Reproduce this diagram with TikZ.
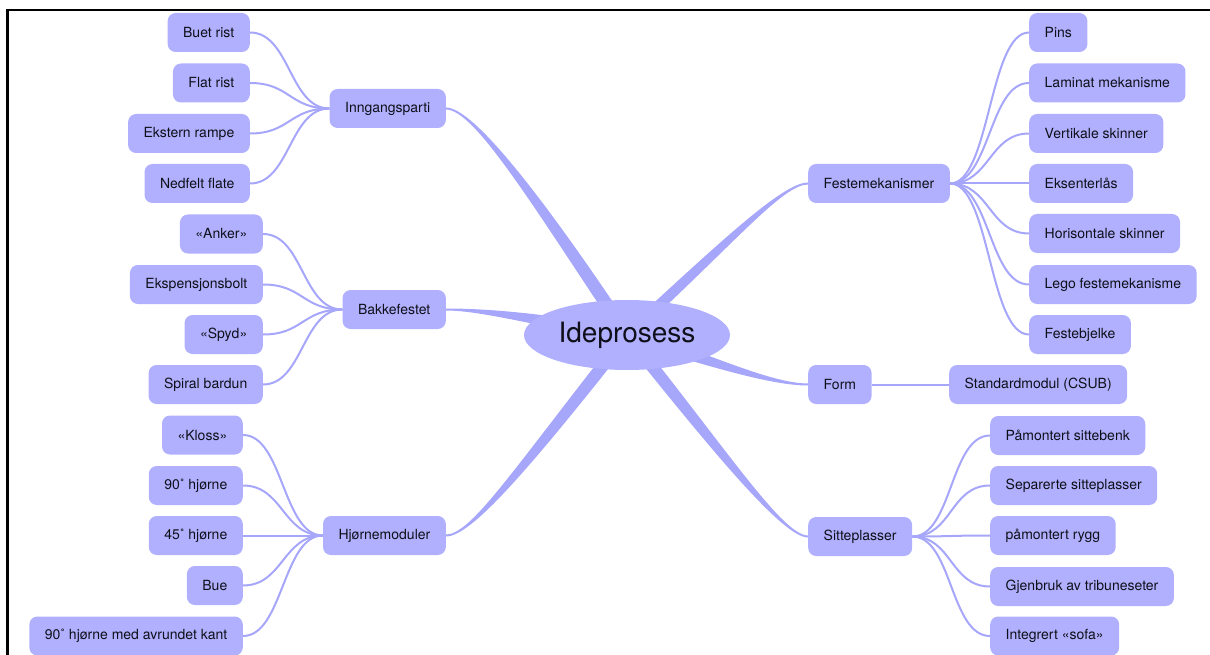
\documentclass[tikz,border=0pt]{standalone}
\usepackage{fontspec}
\setmainfont{TeX Gyre Heros}
\usetikzlibrary{shapes.geometric}
\definecolor{nodefill}{RGB}{176,176,255}
\definecolor{linecol}{RGB}{166,166,250}
\definecolor{txt}{RGB}{15,15,25}
\pgfdeclarelayer{bg}
\pgfsetlayers{bg,main}
\begin{document}
\begin{tikzpicture}[x=1pt,y=-1pt,
  box/.style={draw=none, fill=nodefill, rounded corners=8pt, minimum height=39pt,
    inner xsep=15.5pt, inner ysep=0pt, font=\fontsize{14}{16}\selectfont, text=txt},
  lbox/.style={box, anchor=east},
  rbox/.style={box, anchor=west},
  leafline/.style={draw=linecol, line width=2pt},
  branch/.style={fill=linecol},
  centre/.style={ellipse, fill=nodefill, draw=none, minimum width=206pt, minimum height=70pt,
    inner sep=0pt, font=\fontsize{28}{32}\selectfont, text=txt},
  frame/.style={draw=black, line width=2.4pt}
]
\useasboundingbox (0,0) rectangle (1210,655);
\draw[frame] (7.5,656) -- (7.5,10) -- (1210,10);

% centre
\node[centre] (ide) at (627,335) {Ideprosess};

% left mid nodes
\node[lbox] (inn) at (446,108.5) {Inngangsparti};
\node[lbox] (bak) at (446,309.5) {Bakkefestet};
\node[lbox] (hjo) at (446,535.5) {Hjørnemoduler};

% right mid nodes
\node[rbox] (fes) at (808,183.5) {Festemekanismer};
\node[rbox] (for) at (808,384.5) {Form};
\node[rbox] (sit) at (808,536.5) {Sitteplasser};

% left leaves
\node[lbox] (buet) at (250,32.5) {Buet rist};
\node[lbox] (flat) at (250,83) {Flat rist};
\node[lbox] (ekst) at (250,133.5) {Ekstern rampe};
\node[lbox] (nedf) at (250,183.5) {Nedfelt flate};
\node[lbox] (ank) at (263,234) {«Anker»};
\node[lbox] (eksp) at (263,284.5) {Ekspensjonsbolt};
\node[lbox] (spyd) at (263,334.5) {«Spyd»};
\node[lbox] (spir) at (263,384.5) {Spiral bardun};
\node[lbox] (klos) at (243,435) {«Kloss»};
\node[lbox] (h90) at (243,485.5) {90˚ hjørne};
\node[lbox] (h45) at (243,535.5) {45˚ hjørne};
\node[lbox] (bue) at (243,585.5) {Bue};
\node[lbox] (h90a) at (243,636) {90˚ hjørne med avrundet kant};

% right leaves
\node[rbox] (pins) at (1029,32.5) {Pins};
\node[rbox] (lam) at (1029,83) {Laminat mekanisme};
\node[rbox] (vert) at (1029,133.5) {Vertikale skinner};
\node[rbox] (eks) at (1029,183.5) {Eksenterlås};
\node[rbox] (hor) at (1029,233.5) {Horisontale skinner};
\node[rbox] (lego) at (1029,284.5) {Lego festemekanisme};
\node[rbox] (fbj) at (1029,334.5) {Festebjelke};
\node[rbox] (std) at (949,384.5) {Standardmodul (CSUB)};
\node[rbox] (pms) at (990,435.5) {Påmontert sittebenk};
\node[rbox] (sep) at (990,485.5) {Separerte sitteplasser};
\node[rbox] (pmr) at (990,535.5) {påmontert rygg};
\node[rbox] (gjb) at (990,586.5) {Gjenbruk av tribuneseter};
\node[rbox] (sofa) at (990,636) {Integrert «sofa»};

\begin{pgfonlayer}{bg}
% tapered main branches
\fill[branch] ([yshift=1pt]inn.east) .. controls +(28,0) and +(-89,-134) .. ([xshift=8pt]ide.center)
  -- ([xshift=-8pt]ide.center) .. controls +(-89,-134) and +(28,0) .. ([yshift=-1pt]inn.east) -- cycle;
\fill[branch] ([yshift=1pt]bak.east) .. controls +(35,0) and +(-90,-16) .. ([yshift=7pt]ide.center)
  -- ([yshift=-7pt]ide.center) .. controls +(-90,-16) and +(35,0) .. ([yshift=-1pt]bak.east) -- cycle;
\fill[branch] ([yshift=1pt]hjo.east) .. controls +(25,0) and +(-107,136) .. ([xshift=-8pt]ide.center)
  -- ([xshift=8pt]ide.center) .. controls +(-107,136) and +(25,0) .. ([yshift=-1pt]hjo.east) -- cycle;
\fill[branch] ([yshift=1pt]fes.west) .. controls +(-25,0) and +(102,-94) .. ([xshift=-8pt]ide.center)
  -- ([xshift=8pt]ide.center) .. controls +(102,-94) and +(-25,0) .. ([yshift=-1pt]fes.west) -- cycle;
\fill[branch] ([yshift=1pt]for.west) .. controls +(-40,0) and +(73,21) .. ([yshift=7pt]ide.center)
  -- ([yshift=-7pt]ide.center) .. controls +(73,21) and +(-40,0) .. ([yshift=-1pt]for.west) -- cycle;
\fill[branch] ([yshift=1pt]sit.west) .. controls +(-25,0) and +(93,116) .. ([xshift=8pt]ide.center)
  -- ([xshift=-8pt]ide.center) .. controls +(93,116) and +(-25,0) .. ([yshift=-1pt]sit.west) -- cycle;

% leaf connectors
\foreach \l in {buet,flat,ekst,nedf}
  \draw[leafline] (\l.east) .. controls +(40,0) and +(-40,0) .. (inn.west);
\foreach \l in {ank,eksp,spyd,spir}
  \draw[leafline] (\l.east) .. controls +(40,0) and +(-40,0) .. (bak.west);
\foreach \l in {klos,h90,h45,bue,h90a}
  \draw[leafline] (\l.east) .. controls +(40,0) and +(-40,0) .. (hjo.west);
\foreach \l in {pins,lam,vert,eks,hor,lego,fbj}
  \draw[leafline] (fes.east) .. controls +(40,0) and +(-40,0) .. (\l.west);
\foreach \l in {pms,sep,pmr,gjb,sofa}
  \draw[leafline] (sit.east) .. controls +(40,0) and +(-40,0) .. (\l.west);
\draw[leafline] (for.east) -- (std.west);
\end{pgfonlayer}
\end{tikzpicture}
\end{document}
